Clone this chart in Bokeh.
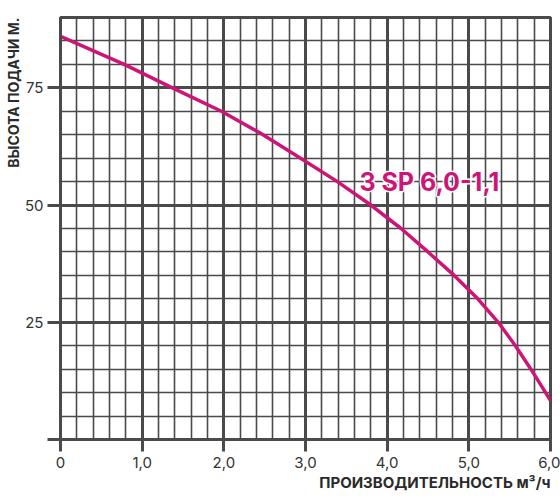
import numpy as np
from bokeh.plotting import figure
from bokeh.models import FixedTicker, Title
from bokeh.core.properties import value
from bokeh.embed import file_html
from bokeh.resources import INLINE

# pump curve 3 SP 6,0-1,1
flow = [0, 0.78, 1.37, 1.97, 2.45, 2.94, 3.39, 3.8, 4.17, 4.5, 4.82, 5.11, 5.36, 5.57, 5.76, 5.94, 6.0]
head = [86, 80, 75, 70, 65.3, 60, 55, 50, 45, 40, 35, 30, 25, 20, 15, 10, 8.3]
model_name = "3 SP 6,0-1,1"

x_ticks = [0, 1, 2, 3, 4, 5, 6]
x_tick_labels = ["0", "1,0", "2,0", "3,0", "4,0", "5,0", "6,0"]
y_ticks = [0, 25, 50, 75]
y_tick_labels = ["", "25", "50", "75"]
x_title = "ПРОИЗВОДИТЕЛЬНОСТЬ м³/ч"
y_title = "ВЫСОТА ПОДАЧИ М."

GRID = "#4a4a4a"
PINK = "#cf1478"
FONT = "Inter"

p = figure(width=560, height=504, x_range=(0, 6), y_range=(0, 90),
           output_backend="svg", toolbar_location=None,
           min_border_left=60, min_border_right=10,
           min_border_top=17, min_border_bottom=65)

# grid: thick lines on major ticks, thin ones between
p.xgrid.ticker = FixedTicker(ticks=x_ticks, minor_ticks=list(np.arange(0, 6.01, 0.2)))
p.ygrid.ticker = FixedTicker(ticks=y_ticks, minor_ticks=list(range(0, 91, 5)))
for g in (p.xgrid, p.ygrid):
    g.grid_line_color = GRID
    g.grid_line_width = 3
    g.minor_grid_line_color = GRID
    g.minor_grid_line_width = 1.6

p.outline_line_color = GRID
p.outline_line_width = 3
p.outline_line_alpha = 1

p.xaxis.ticker = FixedTicker(ticks=x_ticks)
p.xaxis.major_label_overrides = dict(zip(x_ticks, x_tick_labels))
p.yaxis.ticker = FixedTicker(ticks=y_ticks)
p.yaxis.major_label_overrides = dict(zip(y_ticks, y_tick_labels))

for ax in (p.xaxis, p.yaxis):
    ax.axis_line_color = GRID
    ax.axis_line_width = 3
    ax.major_tick_line_color = GRID
    ax.major_tick_line_width = 3
    ax.major_tick_in = 0
    ax.minor_tick_out = 0
    ax.minor_tick_in = 0
    ax.major_label_text_font = FONT
    ax.major_label_text_font_size = "15px"
    ax.major_label_text_color = "#333333"

p.xaxis.major_tick_out = 12
p.xaxis.major_label_standoff = 5
p.yaxis.major_tick_out = 13
p.yaxis.major_label_standoff = 4

# axis names as right/top aligned titles
p.add_layout(Title(text=x_title, align="right", text_font=FONT, text_font_size="15px",
                   text_font_style="bold", text_color="#2a2a2a", standoff=0), "below")
p.add_layout(Title(text=y_title, align="right", text_font=FONT, text_font_size="14px",
                   text_font_style="bold", text_color="#2a2a2a", standoff=0), "left")

p.line(flow, head, line_color=PINK, line_width=3.5)

# white halo under the model name, then the name itself
p.text(x=[3.66], y=[55.0], text=[model_name], text_font=value(FONT),
       text_font_style="bold", text_font_size="25px", text_color="white",
       text_baseline="alphabetic", text_outline_color="white")
p.text(x=[3.66], y=[55.0], text=[model_name], text_font=value(FONT),
       text_font_style="bold", text_font_size="25px", text_color=PINK,
       text_baseline="alphabetic")

open("out.html", "w").write(file_html(p, INLINE))
